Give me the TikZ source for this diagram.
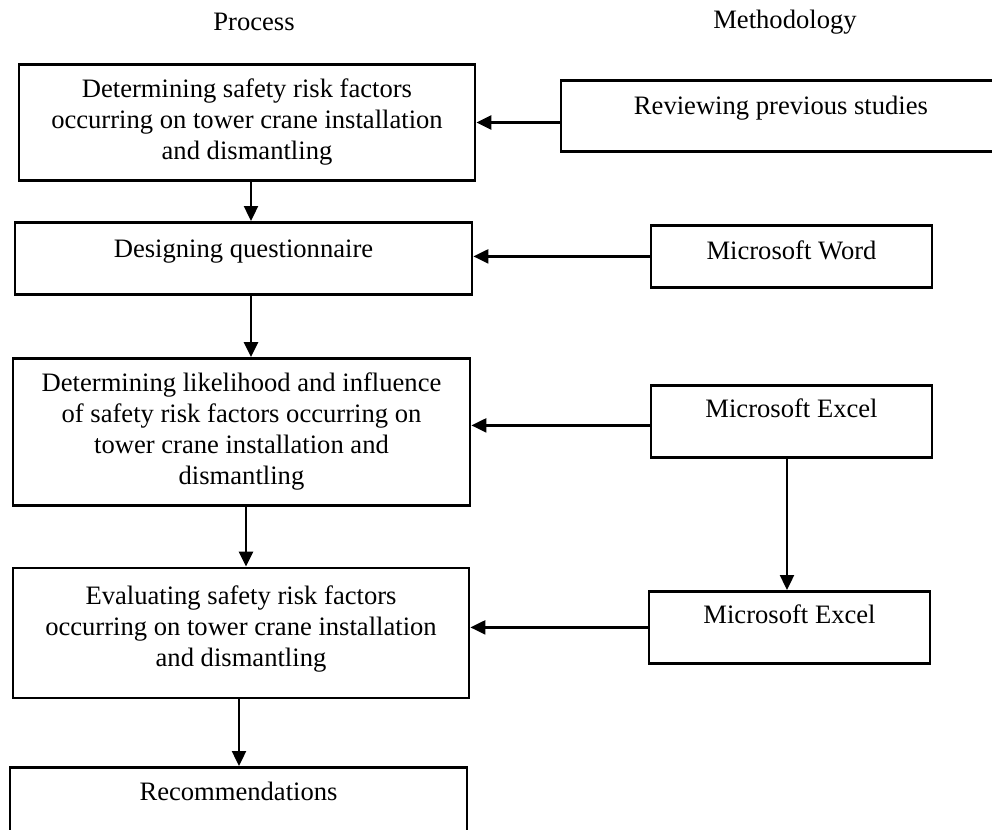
\documentclass[tikz,border=0pt]{standalone}
\usepackage{fontspec}
\setmainfont{Liberation Serif}
\usetikzlibrary{arrows.meta,positioning}
\tikzset{
  procbox/.style={draw,line width=1.4pt,align=center,inner sep=0pt,
    font=\fontsize{13.3}{15.5}\selectfont},
  onebox/.style={procbox,anchor=north,text height=16.5pt},
  headtext/.style={anchor=base,font=\fontsize{13.3}{15.5}\selectfont},
  flow/.style={-{Triangle[length=7.5pt,width=7pt]},line width=1.2pt},
}
\begin{document}
\begin{tikzpicture}[x=0.5pt,y=-0.5pt]
  \useasboundingbox (0,0) rectangle (992,830);
  % column headings
  \node[headtext] (proc) at (254,31) {Process};
  \node[headtext] (meth) at (785,28) {Methodology};
  % process column
  \node[procbox,minimum width=228pt,minimum height=58pt] (b1) at (247,122.5)
    {Determining safety risk factors\\occurring on tower crane installation\\and dismantling};
  \node[onebox,minimum width=228.5pt,text height=17.5pt,text depth=18.5pt] (b2) at (243.5,221)
    {Designing questionnaire};
  \node[procbox,minimum width=228.5pt,minimum height=73.5pt] (b3) at (241.5,432)
    {Determining likelihood and influence\\of safety risk factors occurring on\\tower crane installation and\\dismantling};
  \node[procbox,minimum width=228pt,minimum height=65pt,text depth=7pt] (b4) at (241,633)
    {Evaluating safety risk factors\\occurring on tower crane installation\\and dismantling};
  \node[onebox,minimum width=228.5pt,text depth=16pt] (b5) at (238.5,766)
    {Recommendations};
  % methodology column
  \node[onebox,minimum width=220pt,text height=17pt,text depth=18.5pt] (rev) at (781,79)
    {Reviewing previous studies};
  \node[onebox,minimum width=140.5pt,text height=17pt,text depth=14pt] (word) at (791.5,224)
    {Microsoft Word};
  \node[onebox,minimum width=140.5pt,text height=16pt,text depth=20pt] (exa) at (791.5,384)
    {Microsoft Excel};
  \node[onebox,minimum width=140.5pt,text height=16pt,text depth=20pt] (exb) at (789.5,590)
    {Microsoft Excel};
  % connectors
  \draw[flow] ([xshift=2pt]b1.south) -- ([xshift=2pt]b1.south |- b2.north);
  \draw[flow] ([xshift=3.75pt]b2.south) -- ([xshift=3.75pt]b2.south |- b3.north);
  \draw[flow] ([xshift=2.25pt]b3.south) -- ([xshift=2.25pt]b3.south |- b4.north);
  \draw[flow] ([xshift=-1pt]b4.south) -- ([xshift=-1pt]b4.south |- b5.north);
  \draw[flow] ([xshift=-2.25pt]exa.south) -- ([xshift=-2.25pt]exa.south |- exb.north);
  \draw[flow] (rev.west |- b1.east) -- (b1.east);
  \draw[flow] (word.west) -- (word.west -| b2.east);
  \draw[flow] ([yshift=-2pt]exa.west) -- ([yshift=-2pt]exa.west -| b3.east);
  \draw[flow] (exb.west) -- (exb.west -| b4.east);
\end{tikzpicture}
\end{document}
